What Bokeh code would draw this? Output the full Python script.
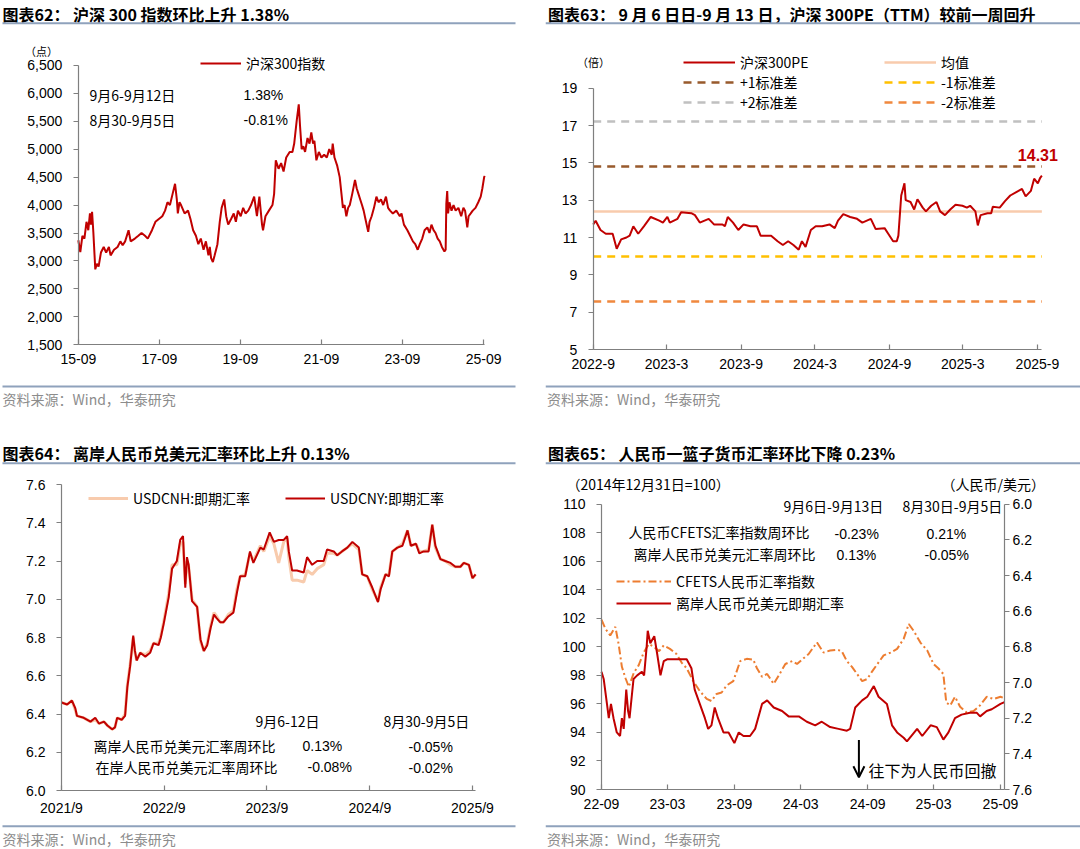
import pandas as pd
from bokeh.plotting import figure
from bokeh.models import (Range1d, LinearAxis, FixedTicker, NumeralTickFormatter,
                          Label, Legend, LegendItem, Arrow, OpenHead, BoxAnnotation)
from bokeh.layouts import column, row
from bokeh.embed import file_html
from bokeh.resources import INLINE

CJK = "Noto Sans CJK SC"
LAT = "Liberation Sans"
RED = "#C00000"
AXC = "#7F7F7F"
RULE = "#8FA2BC"

# ---------------- panel 62: CSI 300 index ----------------
csi_dates = [
    "2015-09-01", "2015-09-19", "2015-10-08", "2015-10-26", "2015-11-14", "2015-11-30", "2015-12-15", "2015-12-24", "2016-01-03", "2016-01-15",
    "2016-02-01", "2016-02-16", "2016-03-02", "2016-03-23", "2016-04-17", "2016-05-09", "2016-06-03", "2016-06-18", "2016-07-19", "2016-08-20",
    "2016-09-14", "2016-10-05", "2016-10-27", "2016-11-27", "2016-12-16", "2017-01-23", "2017-02-23", "2017-03-24", "2017-04-24", "2017-05-19",
    "2017-06-26", "2017-07-27", "2017-08-27", "2017-09-27", "2017-10-22", "2017-11-13", "2017-12-05", "2017-12-29", "2018-01-20", "2018-02-05",
    "2018-02-14", "2018-03-01", "2018-03-15", "2018-04-16", "2018-05-17", "2018-06-08", "2018-07-02", "2018-07-27", "2018-08-18", "2018-09-09",
    "2018-10-04", "2018-10-25", "2018-11-17", "2018-11-29", "2018-12-11", "2018-12-27", "2019-01-12", "2019-02-06", "2019-02-27", "2019-03-16",
    "2019-04-08", "2019-04-26", "2019-05-14", "2019-06-09", "2019-07-03", "2019-07-22", "2019-08-10", "2019-09-04", "2019-09-26", "2019-10-17",
    "2019-11-11", "2019-12-06", "2020-01-03", "2020-01-28", "2020-02-19", "2020-03-14", "2020-03-23", "2020-04-14", "2020-05-15", "2020-06-16",
    "2020-07-01", "2020-07-16", "2020-08-10", "2020-09-02", "2020-09-24", "2020-10-18", "2020-11-18", "2020-12-13", "2020-12-29", "2021-01-20",
    "2021-02-08", "2021-02-20", "2021-03-06", "2021-03-21", "2021-04-06", "2021-04-28", "2021-05-16", "2021-06-01", "2021-06-17", "2021-06-29",
    "2021-07-17", "2021-08-08", "2021-08-31", "2021-09-25", "2021-10-19", "2021-11-10", "2021-12-02", "2021-12-11", "2021-12-27", "2022-01-21",
    "2022-02-12", "2022-02-28", "2022-03-13", "2022-03-28", "2022-04-13", "2022-04-29", "2022-05-14", "2022-06-05", "2022-06-30", "2022-07-15",
    "2022-07-31", "2022-08-16", "2022-09-01", "2022-09-16", "2022-10-02", "2022-10-27", "2022-11-08", "2022-11-27", "2022-12-18", "2023-01-09",
    "2023-01-28", "2023-02-19", "2023-03-11", "2023-04-05", "2023-04-24", "2023-05-12", "2023-06-06", "2023-07-07", "2023-08-08", "2023-08-23",
    "2023-09-14", "2023-10-15", "2023-11-09", "2023-12-04", "2023-12-25", "2024-01-16", "2024-02-04", "2024-02-26", "2024-03-18", "2024-04-12",
    "2024-05-01", "2024-05-19", "2024-06-07", "2024-06-25", "2024-07-14", "2024-08-02", "2024-08-21", "2024-09-13", "2024-09-24", "2024-09-30",
    "2024-10-08", "2024-10-16",
    "2024-10-28", "2024-11-16", "2024-12-04", "2024-12-23", "2025-01-17", "2025-02-11", "2025-03-03", "2025-03-18", "2025-04-07", "2025-04-19",
    "2025-05-08", "2025-05-26", "2025-06-20", "2025-07-15", "2025-08-06", "2025-08-21", "2025-09-06", "2025-09-12"]
csi_vals = [
    3370, 3160, 3450, 3400, 3700, 3550, 3850, 3650, 3880, 3500,
    2850, 2950, 2900, 3150, 3250, 3150, 3250, 3100, 3200, 3250,
    3350, 3280, 3350, 3550, 3350, 3400, 3450, 3500, 3450, 3400,
    3550, 3700, 3750, 3800, 3900, 4050, 4000, 4200, 4380, 4100,
    3850, 4050, 4000, 3850, 3900, 3750, 3550, 3450, 3300, 3400,
    3200, 3350, 3100, 3250, 3050, 2980, 3100, 3300, 3700, 3950,
    4100, 3800, 3650, 3750, 3850, 3700, 3900, 3800, 3950, 3850,
    3900, 4000, 4150, 3800, 4150, 3650, 3550, 3800, 3900, 4000,
    4200, 4800, 4650, 4750, 4600, 4850, 4950, 4950, 5100, 5500,
    5800, 5400, 5000, 5050, 4950, 5200, 5100, 5300, 5100, 5150,
    4800, 4950, 4850, 4900, 4850, 5000, 4900, 5100, 4850, 4700,
    4500, 4200, 3950, 4000, 3800, 3950, 4000, 4200, 4450, 4300,
    4200, 4100, 4000, 3900, 3750, 3520, 3700, 3800, 3950, 4150,
    4050, 4100, 4000, 4150, 3950, 3900, 3850, 3900, 3800, 3850,
    3650, 3550, 3450, 3350, 3300, 3200, 3300, 3400, 3550, 3600,
    3500, 3650, 3550, 3500, 3400, 3350, 3250, 3170, 3200, 4020,
    4250, 3850,
    4050, 3900, 4000, 3900, 3950, 3800, 3950, 3900, 3600, 3800,
    3850, 3900, 3950, 4050, 4150, 4300, 4500, 4520]
csi_y_ticks = [1500, 2000, 2500, 3000, 3500, 4000, 4500, 5000, 5500, 6000, 6500]
csi_x_ticks = ["2015-09-01", "2017-09-01", "2019-09-01", "2021-09-01", "2023-09-01", "2025-09-01"]
csi_x_labels = ["15-09", "17-09", "19-09", "21-09", "23-09", "25-09"]
csi_week_rows = ["9月6-9月12日", "8月30-9月5日"]
csi_week_chg = ["1.38%", "-0.81%"]

# ---------------- panel 63: CSI 300 PE (TTM) ----------------
pe_dates = [
    "2022-09-01", "2022-09-07", "2022-09-19", "2022-10-02", "2022-10-19", "2022-10-29", "2022-11-09", "2022-11-22", "2022-11-30", "2022-12-09",
    "2022-12-21", "2023-01-04", "2023-01-21", "2023-02-11", "2023-02-20", "2023-03-03", "2023-03-09", "2023-03-28", "2023-04-06", "2023-05-01",
    "2023-05-10", "2023-05-22", "2023-06-13", "2023-06-26", "2023-07-17", "2023-07-23", "2023-07-30", "2023-08-12", "2023-08-25", "2023-09-07",
    "2023-09-24", "2023-10-10", "2023-10-19", "2023-11-14", "2023-11-30", "2023-12-13", "2023-12-26", "2024-01-08", "2024-01-21", "2024-01-29",
    "2024-02-07", "2024-02-20", "2024-03-03", "2024-03-19", "2024-04-06", "2024-04-19", "2024-04-27", "2024-05-10", "2024-05-27", "2024-06-13",
    "2024-06-26", "2024-07-17", "2024-07-29", "2024-08-20", "2024-08-29", "2024-09-10", "2024-09-19", "2024-09-23", "2024-09-30", "2024-10-08",
    "2024-10-11", "2024-10-23", "2024-11-01", "2024-11-09", "2024-11-22", "2024-11-30", "2024-12-13", "2024-12-26", "2025-01-04", "2025-01-16",
    "2025-01-29", "2025-02-11", "2025-02-28", "2025-03-11", "2025-03-19", "2025-04-01", "2025-04-07", "2025-04-14", "2025-05-01", "2025-05-10",
    "2025-05-14", "2025-05-31", "2025-06-13", "2025-06-26", "2025-07-12", "2025-07-25", "2025-08-03", "2025-08-16", "2025-08-24", "2025-09-02",
    "2025-09-08", "2025-09-12"]
pe_vals = [
    11.7, 11.9, 11.4, 11.2, 11.2, 10.4, 10.9, 11.0, 11.1, 11.6,
    11.2, 11.6, 12.1, 11.9, 11.8, 12.1, 11.8, 12.0, 12.35, 12.3,
    12.2, 11.8, 12.0, 11.7, 11.7, 11.6, 12.1, 11.8, 11.4, 11.7,
    11.6, 11.6, 11.1, 11.1, 10.8, 10.6, 10.8, 10.6, 10.35, 10.8,
    10.5, 11.4, 11.6, 11.6, 11.7, 11.5, 11.9, 12.25, 12.1, 12.0,
    11.8, 12.0, 11.45, 11.5, 11.2, 10.8, 10.8, 11.1, 13.25, 13.9,
    13.0, 12.9, 12.5, 13.05, 12.6, 12.4, 12.7, 12.9, 12.4, 12.2,
    12.5, 12.75, 12.7, 12.6, 12.7, 12.4, 11.65, 12.2, 12.3, 12.3,
    12.65, 12.6, 12.95, 13.25, 13.45, 13.6, 13.2, 13.5, 14.15, 13.9,
    14.2, 14.31]
pe_mean = 12.39
pe_plus1 = 14.80
pe_plus2 = 17.21
pe_minus1 = 9.98
pe_minus2 = 7.57
pe_y_ticks = [5, 7, 9, 11, 13, 15, 17, 19]
pe_x_ticks = ["2022-09-01", "2023-03-01", "2023-09-01", "2024-03-01", "2024-09-01", "2025-03-01", "2025-09-01"]
pe_x_labels = ["2022-9", "2023-3", "2023-9", "2024-3", "2024-9", "2025-3", "2025-9"]

# ---------------- panel 64: USDCNH / USDCNY ----------------
fx_dates = [
    "2021-09-01", "2021-09-21", "2021-10-08", "2021-10-20", "2021-10-26", "2021-11-19", "2021-12-13", "2021-12-30", "2022-01-12", "2022-01-30",
    "2022-02-11", "2022-02-28", "2022-03-10", "2022-03-18", "2022-04-03", "2022-04-15", "2022-04-23", "2022-05-03", "2022-05-14", "2022-05-20",
    "2022-05-26", "2022-06-08", "2022-06-26", "2022-07-13", "2022-07-25", "2022-08-12", "2022-08-20", "2022-08-30", "2022-09-17", "2022-09-29",
    "2022-10-16", "2022-10-28", "2022-11-07", "2022-11-15", "2022-11-21", "2022-11-27", "2022-12-09", "2022-12-27", "2023-01-08", "2023-01-20",
    "2023-02-01", "2023-02-13", "2023-02-25", "2023-03-07", "2023-03-19", "2023-03-31", "2023-04-17", "2023-05-05", "2023-05-17", "2023-05-29",
    "2023-06-16", "2023-07-03", "2023-07-15", "2023-08-09", "2023-08-21", "2023-09-11", "2023-09-26", "2023-10-13", "2023-10-31", "2023-11-12",
    "2023-11-18", "2023-11-30", "2023-12-17", "2024-01-10", "2024-01-22", "2024-02-09", "2024-02-27", "2024-03-21", "2024-04-02", "2024-04-26",
    "2024-05-08", "2024-05-25", "2024-06-13", "2024-07-01", "2024-07-24", "2024-08-05", "2024-08-23", "2024-09-10", "2024-09-30", "2024-10-09",
    "2024-10-27", "2024-11-08", "2024-11-20", "2024-12-08", "2024-12-26", "2025-01-13", "2025-01-25", "2025-02-12", "2025-02-24", "2025-03-11",
    "2025-03-29", "2025-04-11", "2025-04-22", "2025-05-10", "2025-05-27", "2025-06-15", "2025-07-02", "2025-07-20", "2025-08-01", "2025-08-19",
    "2025-09-01", "2025-09-12"]
cny_vals = [
    6.46, 6.45, 6.47, 6.43, 6.39, 6.38, 6.36, 6.38, 6.35, 6.36,
    6.34, 6.32, 6.33, 6.38, 6.37, 6.39, 6.54, 6.65, 6.81, 6.73,
    6.68, 6.72, 6.70, 6.72, 6.77, 6.76, 6.80, 6.87, 7.01, 7.16,
    7.20, 7.31, 7.33, 7.06, 7.22, 7.18, 6.99, 6.96, 6.79, 6.73,
    6.76, 6.85, 6.92, 6.90, 6.88, 6.88, 6.91, 6.93, 7.03, 7.12,
    7.12, 7.25, 7.19, 7.27, 7.26, 7.35, 7.30, 7.31, 7.31, 7.33,
    7.25, 7.15, 7.15, 7.14, 7.22, 7.18, 7.20, 7.20, 7.26, 7.25,
    7.23, 7.25, 7.27, 7.30, 7.27, 7.13, 7.12, 7.06, 6.985, 7.05,
    7.13, 7.12, 7.25, 7.27, 7.28, 7.36, 7.28, 7.29, 7.24, 7.25,
    7.25, 7.39, 7.28, 7.21, 7.20, 7.19, 7.17, 7.17, 7.19, 7.18,
    7.11, 7.13]
cnh_vals = [
    6.46, 6.45, 6.47, 6.42, 6.39, 6.38, 6.36, 6.37, 6.35, 6.36,
    6.34, 6.32, 6.33, 6.38, 6.37, 6.40, 6.55, 6.66, 6.80, 6.72,
    6.68, 6.72, 6.71, 6.73, 6.77, 6.77, 6.81, 6.88, 7.03, 7.18,
    7.18, 7.29, 7.30, 7.08, 7.20, 7.17, 7.00, 6.96, 6.78, 6.73,
    6.77, 6.86, 6.93, 6.91, 6.88, 6.88, 6.92, 6.94, 7.05, 7.12,
    7.13, 7.24, 7.20, 7.28, 7.25, 7.33, 7.29, 7.19, 7.30, 7.32,
    7.22, 7.10, 7.10, 7.09, 7.15, 7.13, 7.16, 7.18, 7.24, 7.24,
    7.23, 7.25, 7.27, 7.29, 7.26, 7.13, 7.12, 7.05, 6.99, 7.06,
    7.13, 7.13, 7.25, 7.27, 7.29, 7.36, 7.28, 7.29, 7.25, 7.25,
    7.26, 7.39, 7.27, 7.21, 7.20, 7.18, 7.17, 7.17, 7.19, 7.18,
    7.11, 7.13]
fx_y_ticks = [6.0, 6.2, 6.4, 6.6, 6.8, 7.0, 7.2, 7.4, 7.6]
fx_x_ticks = ["2021-09-01", "2022-09-01", "2023-09-01", "2024-09-01", "2025-09-01"]
fx_x_labels = ["2021/9", "2022/9", "2023/9", "2024/9", "2025/9"]
fx_cols = ["9月6-12日", "8月30-9月5日"]
fx_rows = ["离岸人民币兑美元汇率周环比", "在岸人民币兑美元汇率周环比"]
fx_chg_this = ["0.13%", "-0.08%"]
fx_chg_prev = ["-0.05%", "-0.02%"]

# ---------------- panel 65: CFETS index and offshore CNH ----------------
cfets_dates = [
    "2022-09-01", "2022-09-12", "2022-09-25", "2022-10-09", "2022-10-18", "2022-10-27", "2022-11-06", "2022-11-15", "2022-11-29", "2022-12-12",
    "2022-12-26", "2023-01-09", "2023-01-23", "2023-02-06", "2023-02-19", "2023-03-08", "2023-03-26", "2023-04-09", "2023-04-23", "2023-05-11",
    "2023-05-29", "2023-06-17", "2023-06-30", "2023-07-14", "2023-07-28", "2023-08-11", "2023-08-29", "2023-09-17", "2023-10-05", "2023-10-23",
    "2023-11-02", "2023-11-16", "2023-11-30", "2023-12-18", "2024-01-01", "2024-01-19", "2024-02-07", "2024-02-20", "2024-03-09", "2024-03-23",
    "2024-04-06", "2024-04-15", "2024-05-03", "2024-05-21", "2024-06-09", "2024-06-22", "2024-07-06", "2024-07-20", "2024-08-03", "2024-08-17",
    "2024-08-31", "2024-09-14", "2024-09-28", "2024-10-15", "2024-11-03", "2024-11-21", "2024-12-09", "2024-12-23", "2025-01-06", "2025-01-24",
    "2025-02-12", "2025-03-01", "2025-03-14", "2025-03-28", "2025-04-05", "2025-04-16", "2025-04-29", "2025-05-13", "2025-05-31", "2025-06-19",
    "2025-07-07", "2025-07-25", "2025-08-13", "2025-09-01", "2025-09-12"]
cfets_vals = [
    101.9, 101.26, 100.8, 101.4, 100.2, 98.6, 97.8, 97.2, 98.2, 98.7,
    99.6, 100.2, 100.0, 99.7, 100.1, 99.86, 99.5, 98.9, 98.5, 97.6,
    96.9, 96.35, 96.2, 96.7, 96.8, 97.3, 97.6, 99.0, 99.16, 99.1,
    98.5, 97.9, 98.1, 97.4, 98.0, 98.8, 99.0, 98.8, 99.2, 99.5,
    100.0, 100.3, 99.6, 99.74, 99.8, 99.7, 99.0, 98.6, 98.1, 97.6,
    97.75, 98.3, 98.8, 99.4, 99.6, 99.86, 100.56, 101.6, 101.1, 100.3,
    99.74, 98.8, 98.5, 98.1, 96.1, 95.9, 96.5, 95.8, 95.4, 95.5,
    95.9, 96.5, 96.35, 96.5, 96.4]
cnh_dates = [
    "2022-09-01", "2022-09-07", "2022-09-16", "2022-09-21", "2022-09-27", "2022-10-04", "2022-10-13", "2022-10-22", "2022-10-27", "2022-11-01",
    "2022-11-08", "2022-11-13", "2022-11-17", "2022-11-21", "2022-11-28", "2022-12-08", "2022-12-21", "2022-12-27", "2023-01-03", "2023-01-06",
    "2023-01-13", "2023-01-24", "2023-02-01", "2023-02-10", "2023-02-19", "2023-02-28", "2023-03-26", "2023-04-23", "2023-05-06", "2023-05-15",
    "2023-05-29", "2023-06-12", "2023-06-21", "2023-06-30", "2023-07-09", "2023-07-18", "2023-08-02", "2023-08-16", "2023-09-01", "2023-09-13",
    "2023-09-26", "2023-10-14", "2023-10-28", "2023-11-16", "2023-11-30", "2023-12-18", "2024-01-10", "2024-01-28", "2024-02-25", "2024-03-18",
    "2024-04-10", "2024-04-28", "2024-05-21", "2024-06-13", "2024-07-06", "2024-07-15", "2024-07-29", "2024-08-17", "2024-08-31", "2024-09-18",
    "2024-10-01", "2024-10-24", "2024-11-07", "2024-11-21", "2024-12-09", "2024-12-18", "2025-01-15", "2025-01-29", "2025-02-21", "2025-03-10",
    "2025-03-28", "2025-04-11", "2025-04-29", "2025-05-17", "2025-06-09", "2025-06-28", "2025-07-07", "2025-07-25", "2025-08-08", "2025-09-01",
    "2025-09-12"]
cnh_spot_vals = [
    6.94, 6.98, 7.12, 7.20, 7.12, 7.20, 7.28, 7.30, 7.20, 7.26,
    7.04, 7.16, 7.20, 7.12, 6.98, 6.96, 6.94, 6.96, 6.80, 6.71,
    6.78, 6.74, 6.84, 6.96, 6.88, 6.87, 6.87, 6.87, 6.92, 7.04,
    7.12, 7.20, 7.26, 7.24, 7.14, 7.20, 7.28, 7.28, 7.34, 7.28,
    7.30, 7.30, 7.26, 7.12, 7.10, 7.14, 7.16, 7.19, 7.19, 7.22,
    7.24, 7.22, 7.25, 7.26, 7.27, 7.26, 7.14, 7.10, 7.08, 7.02,
    7.08, 7.12, 7.24, 7.28, 7.31, 7.33, 7.26, 7.30, 7.24, 7.25,
    7.32, 7.28, 7.20, 7.18, 7.17, 7.17, 7.19, 7.16, 7.15, 7.12,
    7.11]
idx_y_ticks = [90, 92, 94, 96, 98, 100, 102, 104, 106, 108, 110]
rmb_y_ticks = [6.0, 6.2, 6.4, 6.6, 6.8, 7.0, 7.2, 7.4, 7.6]
idx_x_ticks = ["2022-09-01", "2023-03-01", "2023-09-01", "2024-03-01", "2024-09-01", "2025-03-01", "2025-09-01"]
idx_x_labels = ["22-09", "23-03", "23-09", "24-03", "24-09", "25-03", "25-09"]
idx_cols = ["9月6日-9月13日", "8月30日-9月5日"]
idx_rows = ["人民币CFETS汇率指数周环比", "离岸人民币兑美元汇率周环比"]
idx_chg_this = ["-0.23%", "0.13%"]
idx_chg_prev = ["0.21%", "-0.05%"]

assert len(csi_dates) == len(csi_vals)
assert len(pe_dates) == len(pe_vals)
assert len(fx_dates) == len(cny_vals) == len(cnh_vals)
assert len(cfets_dates) == len(cfets_vals)
assert len(cnh_dates) == len(cnh_spot_vals)

TITLES = ["图表62：  沪深 300 指数环比上升 1.38%",
          "图表63：  9 月 6 日日-9 月 13 日，沪深 300PE（TTM）较前一周回升",
          "图表64：  离岸人民币兑美元汇率环比上升 0.13%",
          "图表65：  人民币一篮子货币汇率环比下降 0.23%"]
SOURCE = "资料来源：Wind，华泰研究"


def ms(d):
    return float(pd.Timestamp(d).value // 10**6)


def dts(lst):
    return pd.to_datetime(lst)


def span(v0, p0, v1, p1, size):
    """Range whose value v0 sits at pixel p0 and v1 at pixel p1, over a frame of `size` pixels."""
    k = (v1 - v0) / (p1 - p0)
    return v0 - p0 * k, v0 + (size - p0) * k


# ---- panel geometry (pixels; x from the panel's left, y from the panel's bottom) ----
W_L, W_R = 545, 535
H_T, H_B = 432, 417


def panel(W, H, xr, yr):
    p = figure(width=W, height=H, x_range=Range1d(start=xr[0], end=xr[1]),
               y_range=Range1d(start=yr[0], end=yr[1]),
               x_axis_location=None, y_axis_location=None, min_border=0,
               toolbar_location=None, output_backend="svg", title=None)
    p.grid.visible = False
    p.outline_line_color = None
    p.background_fill_color = "white"
    p.border_fill_color = "white"
    return p


def lab(p, text, x, y, size="14px", font=CJK, color="black", align="left", bold=False):
    p.add_layout(Label(x=x, y=y, x_units="screen", y_units="screen", text=text,
                       text_font=font, text_font_size=size, text_color=color,
                       text_align=align, text_baseline="middle",
                       text_font_style="bold" if bold else "normal"))


def rule(p, x0, x1, y):
    p.add_layout(BoxAnnotation(left=x0, right=x1, bottom=y - 1, top=y + 1,
                               left_units="screen", right_units="screen",
                               bottom_units="screen", top_units="screen",
                               fill_color=RULE, fill_alpha=1.0, line_color=None))


def add_axis(p, side, fixed, ticks, bounds, tick_in, tick_out, standoff,
             labels=None, fmt=None, range_name=None):
    ax = LinearAxis(fixed_location=fixed, bounds=bounds)
    if range_name is not None:
        ax.y_range_name = range_name
    ax.ticker = FixedTicker(ticks=ticks)
    ax.axis_line_color = AXC
    ax.axis_line_width = 1.2
    ax.major_tick_line_color = AXC
    ax.major_tick_line_width = 1.2
    ax.minor_tick_line_color = None
    ax.major_tick_in = tick_in
    ax.major_tick_out = tick_out
    ax.major_label_standoff = standoff
    ax.major_label_text_font = LAT
    ax.major_label_text_font_size = "14px"
    ax.major_label_text_color = "black"
    if labels is not None:
        ax.major_label_overrides = dict(zip(ticks, labels))
    if fmt is not None:
        ax.formatter = NumeralTickFormatter(format=fmt)
    p.add_layout(ax, side)
    return ax


def add_legend(p, items, x, y, gw, standoff, rowh):
    lg = Legend(items=items, location=(x, y), orientation="vertical",
                glyph_width=gw, glyph_height=rowh, label_height=rowh,
                label_standoff=standoff, spacing=0, padding=0, margin=0,
                border_line_color=None, background_fill_alpha=0,
                label_text_font=CJK, label_text_font_size="14px", label_text_color="black")
    p.add_layout(lg)


# ======================= panel 62 =======================
xr = span(ms("2015-09-01"), 77.8, ms("2025-09-01"), 483.1, W_L)
yr = span(1500, H_T - 344.3, 6500, H_T - 64.8, H_T)
p1 = panel(W_L, H_T, xr, yr)
r1 = p1.line(dts(csi_dates), csi_vals, line_color=RED, line_width=2)
add_axis(p1, "left", ms(csi_dates[0]), csi_y_ticks, (1500, 6500), 0, 5, 11, fmt="0,0")
xt = [ms(d) for d in csi_x_ticks]
add_axis(p1, "below", 1500, xt, (ms(csi_dates[0]), ms(csi_dates[-1])), 5, 0, 9, labels=csi_x_labels)
add_legend(p1, [LegendItem(label="沪深300指数", renderers=[r1])], 200, H_T - 73.3, 41, 5, 20)
lab(p1, TITLES[0], 2, H_T - 13.3, size="16px", bold=True)
rule(p1, 2, 515, H_T - 22.7)
rule(p1, 2, 515, H_T - 386)
lab(p1, SOURCE, 2, H_T - 398, color="#8C8C8C")
lab(p1, "（点）", 41, H_T - 50, size="11px", align="center")
lab(p1, csi_week_rows[0], 89, H_T - 94.3)
lab(p1, csi_week_chg[0], 243, H_T - 94.3, font=LAT)
lab(p1, csi_week_rows[1], 89, H_T - 119)
lab(p1, csi_week_chg[1], 243, H_T - 119, font=LAT)

# ======================= panel 63 =======================
xr = span(ms("2022-09-01"), 47.7, ms("2025-09-01"), 491.9, W_R)
yr = span(5, H_T - 349, 17, H_T - 125, H_T)
p2 = panel(W_R, H_T, xr, yr)
xd = dts([pe_dates[0], pe_dates[-1]])
r_p2 = p2.line(xd, [pe_plus2, pe_plus2], line_color="#C0C0C0", line_width=2.5, line_dash="8 6")
r_m2 = p2.line(xd, [pe_minus2, pe_minus2], line_color="#F0883E", line_width=2.5, line_dash="8 6")
r_p1 = p2.line(xd, [pe_plus1, pe_plus1], line_color="#985A2C", line_width=2.5, line_dash="8 6")
r_m1 = p2.line(xd, [pe_minus1, pe_minus1], line_color="#FFC000", line_width=2.5, line_dash="8 6")
r_mn = p2.line(xd, [pe_mean, pe_mean], line_color="#F8CBAD", line_width=2.5)
r_pe = p2.line(dts(pe_dates), pe_vals, line_color=RED, line_width=2)
add_axis(p2, "left", ms(pe_dates[0]), pe_y_ticks, (5, 19), 0, 5, 11)
xt = [ms(d) for d in pe_x_ticks]
add_axis(p2, "below", 5, xt, (ms(pe_dates[0]), ms(pe_dates[-1])), 5, 0, 9, labels=pe_x_labels)
add_legend(p2, [LegendItem(label="沪深300PE", renderers=[r_pe]),
                LegendItem(label="+1标准差", renderers=[r_p1]),
                LegendItem(label="+2标准差", renderers=[r_p2])], 138, H_T - 111.7, 52, 5, 20)
add_legend(p2, [LegendItem(label="均值", renderers=[r_mn]),
                LegendItem(label="-1标准差", renderers=[r_m1]),
                LegendItem(label="-2标准差", renderers=[r_m2])], 339, H_T - 111.7, 52, 5, 20)
lab(p2, TITLES[1], 2.5, H_T - 13.3, size="16px", bold=True)
rule(p2, 0, W_R, H_T - 22.7)
rule(p2, 0, W_R, H_T - 386)
lab(p2, SOURCE, 1.5, H_T - 398, color="#8C8C8C")
lab(p2, "（倍）", 48, H_T - 61.7, size="11px", align="center")
p2.add_layout(Label(x=ms(pe_dates[-1]), y=pe_vals[-1], x_offset=-4, y_offset=21,
                    text=f"{pe_vals[-1]:.2f}", text_font=LAT, text_font_size="16px",
                    text_font_style="bold", text_color=RED, text_align="center",
                    text_baseline="middle"))

# ======================= panel 64 =======================
Y0 = 432  # top of the lower panels in page pixels
xr = span(ms("2021-09-01"), 61, ms("2025-09-01"), 472, W_L)
yr = span(6.0, H_B - (790 - Y0), 7.6, H_B - (484 - Y0), H_B)
p3 = panel(W_L, H_B, xr, yr)
r_cnh = p3.line(dts(fx_dates), cnh_vals, line_color="#F8CBAD", line_width=3)
r_cny = p3.line(dts(fx_dates), cny_vals, line_color=RED, line_width=2)
add_axis(p3, "left", ms(fx_dates[0]), fx_y_ticks, (6.0, 7.6), 0, 5, 11, fmt="0.0")
xt = [ms(d) for d in fx_x_ticks]
add_axis(p3, "below", 6.0, xt, (ms(fx_dates[0]), ms(fx_dates[-1])), 5, 0, 9, labels=fx_x_labels)
add_legend(p3, [LegendItem(label="USDCNH:即期汇率", renderers=[r_cnh])], 88, H_B - (507.8 - Y0), 40, 5, 20)
add_legend(p3, [LegendItem(label="USDCNY:即期汇率", renderers=[r_cny])], 285, H_B - (507.8 - Y0), 40, 5, 20)
lab(p3, TITLES[2], 2, H_B - (452.7 - Y0), size="16px", bold=True)
rule(p3, 2, 515, H_B - (462.7 - Y0))
rule(p3, 2, 515, H_B - (825.7 - Y0))
lab(p3, SOURCE, 2, H_B - (838.3 - Y0), color="#8C8C8C")
lab(p3, fx_cols[0], 255, H_B - (720 - Y0))
lab(p3, fx_cols[1], 383, H_B - (720 - Y0))
lab(p3, fx_rows[0], 93, H_B - (745 - Y0))
lab(p3, fx_chg_this[0], 302, H_B - (745 - Y0), font=LAT)
lab(p3, fx_chg_prev[0], 408, H_B - (746.5 - Y0), font=LAT)
lab(p3, fx_rows[1], 95, H_B - (766.7 - Y0))
lab(p3, fx_chg_this[1], 307, H_B - (766.7 - Y0), font=LAT)
lab(p3, fx_chg_prev[1], 408, H_B - (767.3 - Y0), font=LAT)

# ======================= panel 65 =======================
X0 = 545  # left of the right panels in page pixels
xr = span(ms("2022-09-01"), 601 - X0, ms("2025-09-01"), 1000 - X0, W_R)
yr = span(90, H_B - (789 - Y0), 110, H_B - (503.7 - Y0), H_B)
rr = span(7.6, H_B - (789 - Y0), 6.0, H_B - (503.7 - Y0), H_B)
p4 = panel(W_R, H_B, xr, yr)
p4.extra_y_ranges = {"rmb": Range1d(start=rr[0], end=rr[1])}
r_cf = p4.line(dts(cfets_dates), cfets_vals, line_color="#ED7D31", line_width=2, line_dash="8 3 2 3")
r_sp = p4.line(dts(cnh_dates), cnh_spot_vals, line_color=RED, line_width=2, y_range_name="rmb")
add_axis(p4, "left", ms(cfets_dates[0]), idx_y_ticks, (90, 110), 0, 5, 11)
add_axis(p4, "right", ms(cnh_dates[-1]), rmb_y_ticks, (6.0, 7.6), 0, 5, 3, fmt="0.0", range_name="rmb")
xt = [ms(d) for d in idx_x_ticks]
add_axis(p4, "below", 90, xt, (ms(cfets_dates[0]), ms(cfets_dates[-1])), 5, 0, 9, labels=idx_x_labels)
add_legend(p4, [LegendItem(label="CFETS人民币汇率指数", renderers=[r_cf]),
                LegendItem(label="离岸人民币兑美元即期汇率", renderers=[r_sp])],
           616 - X0, H_B - (614 - Y0), 55, 5, 22)
lab(p4, TITLES[3], 2.5, H_B - (452.7 - Y0), size="16px", bold=True)
rule(p4, 0, W_R, H_B - (462.7 - Y0))
rule(p4, 0, W_R, H_B - (825.7 - Y0))
lab(p4, SOURCE, 1.5, H_B - (838.3 - Y0), color="#8C8C8C")
lab(p4, "（2014年12月31日=100）", 566 - X0, H_B - (483.3 - Y0))
lab(p4, "（人民币/美元）", 941 - X0, H_B - (483.3 - Y0))
lab(p4, idx_cols[0], 783 - X0, H_B - (505 - Y0))
lab(p4, idx_cols[1], 902 - X0, H_B - (505 - Y0))
lab(p4, idx_rows[0], 628 - X0, H_B - (531.7 - Y0))
lab(p4, idx_chg_this[0], 834 - X0, H_B - (533.3 - Y0), font=LAT)
lab(p4, idx_chg_prev[0], 926 - X0, H_B - (533.3 - Y0), font=LAT)
lab(p4, idx_rows[1], 633 - X0, H_B - (553.3 - Y0))
lab(p4, idx_chg_this[1], 836 - X0, H_B - (554 - Y0), font=LAT)
lab(p4, idx_chg_prev[1], 924 - X0, H_B - (554 - Y0), font=LAT)
p4.add_layout(Arrow(end=OpenHead(size=11, line_width=2, line_color="black"),
                    x_start=858.4 - X0, y_start=H_B - (739.5 - Y0),
                    x_end=858.4 - X0, y_end=H_B - (776.7 - Y0),
                    start_units="screen", end_units="screen",
                    line_width=2, line_color="black"))
lab(p4, "往下为人民币回撤", 868 - X0, H_B - (769.3 - Y0), size="16px")

layout = column(row(p1, p2), row(p3, p4))

open("out.html", "w").write(file_html(layout, INLINE))
